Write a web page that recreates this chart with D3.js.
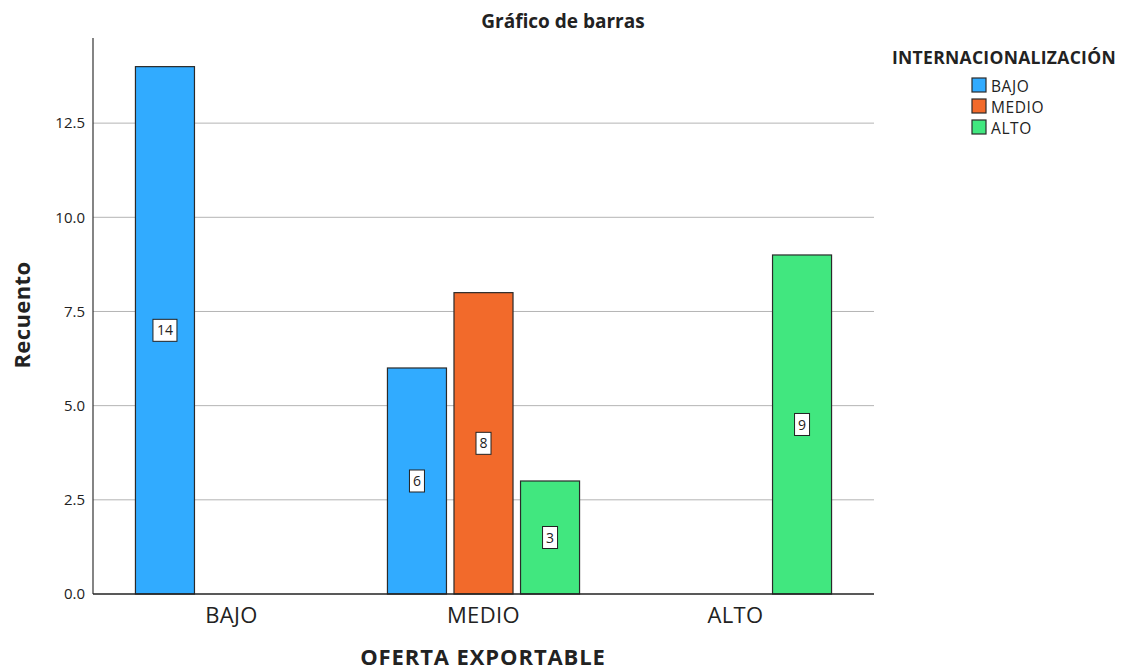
<!DOCTYPE html>
<html>
<head>
<meta charset="utf-8">
<script src="https://cdn.jsdelivr.net/npm/d3@7"></script>
<style>
  html, body { margin: 0; padding: 0; background: #fff; }
  svg { display: block; font-family: "Open Sans", "DejaVu Sans", sans-serif; }
</style>
</head>
<body>
<svg id="chart" width="1142" height="671"></svg>
<script>
// Categories of the x axis (OFERTA EXPORTABLE) and legend series (INTERNACIONALIZACIÓN)
const categories = ["BAJO", "MEDIO", "ALTO"];
const seriesNames = ["BAJO", "MEDIO", "ALTO"];
const seriesColors = ["#31abff", "#f26a2b", "#41e77f"];

// Counts per category, one array per series (null = no bar)
const bajoValues  = [14, 6, null];
const medioValues = [null, 8, null];
const altoValues  = [null, 3, 9];

const yTicks = [0, 2.5, 5, 7.5, 10, 12.5];

const seriesValues = [bajoValues, medioValues, altoValues];

const svg = d3.select("#chart");

const plot = { left: 93, right: 874, top: 38, bottom: 594 };

const y = d3.scaleLinear().domain([0, 14.76]).range([plot.bottom, plot.top]);

const x0 = d3.scaleBand().domain(categories).range([105.5, 861.5]).padding(0);
const x1 = d3.scaleBand().domain(seriesNames).range([0, x0.bandwidth()])
  .paddingInner(0.113).paddingOuter(0.45);

// Gridlines
svg.append("g")
  .selectAll("line")
  .data(yTicks.filter(d => d > 0))
  .join("line")
  .attr("x1", plot.left).attr("x2", plot.right)
  .attr("y1", d => y(d)).attr("y2", d => y(d))
  .attr("stroke", "#b4b4b4").attr("stroke-width", 1);

// Y axis (labels only, no tick marks)
const yAxis = svg.append("g")
  .attr("transform", `translate(${plot.left},0)`)
  .call(d3.axisLeft(y).tickValues(yTicks).tickFormat(d3.format(".1f")).tickSize(0).tickPadding(8));
yAxis.select(".domain").remove();
yAxis.selectAll("text").attr("fill", "#222")
  .attr("font-family", "'Open Sans', sans-serif").style("font-size", "15px");

svg.append("line")
  .attr("x1", plot.left).attr("x2", plot.left)
  .attr("y1", plot.top).attr("y2", plot.bottom)
  .attr("stroke", "#333").attr("stroke-width", 1.2);

// Bars
const barData = [];
categories.forEach((c, ci) => {
  seriesNames.forEach((s, si) => {
    const v = seriesValues[si][ci];
    if (v != null) barData.push({ cat: c, series: s, color: seriesColors[si], value: v });
  });
});

const bars = svg.append("g");
bars.selectAll("rect")
  .data(barData)
  .join("rect")
  .attr("x", d => x0(d.cat) + x1(d.series))
  .attr("y", d => y(d.value))
  .attr("width", x1.bandwidth())
  .attr("height", d => y(0) - y(d.value))
  .attr("fill", d => d.color)
  .attr("stroke", "#2a2a2a").attr("stroke-width", 1.2);

// X axis baseline
svg.append("line")
  .attr("x1", plot.left).attr("x2", plot.right)
  .attr("y1", plot.bottom).attr("y2", plot.bottom)
  .attr("stroke", "#222").attr("stroke-width", 1.5);

// Value labels in white boxes at bar mid-height
const labels = svg.append("g").selectAll("g")
  .data(barData)
  .join("g")
  .attr("transform", d => `translate(${x0(d.cat) + x1(d.series) + x1.bandwidth() / 2},${y(d.value / 2)})`);
labels.append("rect")
  .attr("x", d => String(d.value).length > 1 ? -12 : -7.5)
  .attr("y", -11)
  .attr("width", d => String(d.value).length > 1 ? 24 : 15)
  .attr("height", 22)
  .attr("fill", "#fff").attr("stroke", "#222").attr("stroke-width", 1);
labels.append("text")
  .attr("text-anchor", "middle").attr("dy", "0.36em")
  .attr("font-size", 14).attr("fill", "#222")
  .text(d => d.value);

// Category labels
svg.append("g").selectAll("text")
  .data(categories)
  .join("text")
  .attr("x", d => x0(d) + x0.bandwidth() / 2)
  .attr("y", 623)
  .attr("text-anchor", "middle")
  .attr("font-size", 22).attr("letter-spacing", 0.4).attr("fill", "#222")
  .text(d => d);

// Titles
svg.append("text")
  .attr("x", 563).attr("y", 28)
  .attr("text-anchor", "middle")
  .attr("font-weight", "bold").attr("font-size", 19).attr("fill", "#222")
  .text("Gráfico de barras");

svg.append("text")
  .attr("x", 483).attr("y", 665)
  .attr("text-anchor", "middle")
  .attr("font-weight", "bold").attr("font-size", 22).attr("letter-spacing", 0.9).attr("fill", "#222")
  .text("OFERTA EXPORTABLE");

svg.append("text")
  .attr("transform", "translate(30,315) rotate(-90)")
  .attr("text-anchor", "middle")
  .attr("font-weight", "bold").attr("font-size", 22).attr("letter-spacing", 0.4).attr("fill", "#222")
  .text("Recuento");

// Legend
svg.append("text")
  .attr("x", 1004).attr("y", 64)
  .attr("text-anchor", "middle")
  .attr("font-weight", "bold").attr("font-size", 17.5).attr("letter-spacing", 0.3).attr("fill", "#222")
  .text("INTERNACIONALIZACIÓN");

const legend = svg.append("g").selectAll("g")
  .data(seriesNames)
  .join("g")
  .attr("transform", (d, i) => `translate(972,${78 + i * 21})`);
legend.append("rect")
  .attr("width", 14).attr("height", 14)
  .attr("fill", (d, i) => seriesColors[i])
  .attr("stroke", "#2a2a2a").attr("stroke-width", 1.2);
legend.append("text")
  .attr("x", 19).attr("y", 13.5)
  .attr("font-size", 15.5).attr("letter-spacing", 0.6).attr("fill", "#222")
  .text(d => d);
</script>
</body>
</html>
